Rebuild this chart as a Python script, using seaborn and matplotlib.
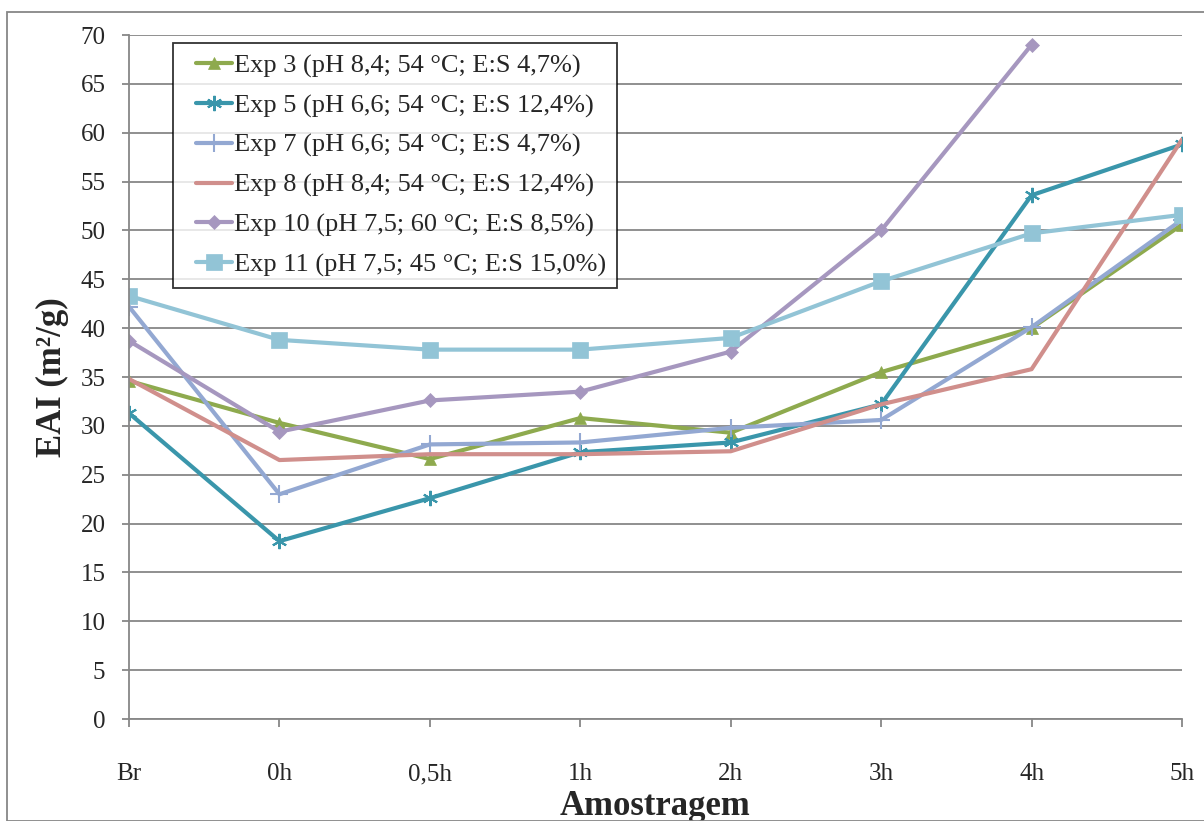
import numpy as np
import pandas as pd
import matplotlib
matplotlib.use("Agg")
import matplotlib.pyplot as plt
from matplotlib.patches import Rectangle
from matplotlib.legend_handler import HandlerLine2D
import seaborn as sns

# Sampling points (x categories)
amostras = ["Br", "0h", "0,5h", "1h", "2h", "3h", "4h", "5h"]

# EAI (m²/g) per experiment
exp3 = [34.6, 30.3, 26.6, 30.8, 29.3, 35.5, 40.0, 50.6]
exp5 = [31.3, 18.2, 22.6, 27.3, 28.3, 32.2, 53.6, 58.8]
exp7 = [42.2, 23.0, 28.1, 28.3, 29.8, 30.6, 40.1, 51.1]
exp8 = [34.8, 26.5, 27.1, 27.1, 27.4, 32.2, 35.8, 59.3]
exp10 = [38.7, 29.4, 32.6, 33.5, 37.6, 50.0, 69.0, np.nan]
exp11 = [43.3, 38.8, 37.8, 37.8, 39.0, 44.8, 49.7, 51.6]

labels = [
    "Exp 3 (pH 8,4; 54 °C; E:S 4,7%)",
    "Exp 5 (pH 6,6; 54 °C; E:S 12,4%)",
    "Exp 7 (pH 6,6; 54 °C; E:S 4,7%)",
    "Exp 8 (pH 8,4; 54 °C; E:S 12,4%)",
    "Exp 10 (pH 7,5; 60 °C; E:S 8,5%)",
    "Exp 11 (pH 7,5; 45 °C; E:S 15,0%)",
]
series = [exp3, exp5, exp7, exp8, exp10, exp11]

colors = ["#8EAA4E", "#3A96AB", "#93A8D2", "#D08F8C", "#A697BF", "#92C4D6"]
markers = ["^", (6, 2, 0), "+", None, "D", "s"]
msizes = [9, 11, 13, 0, 7, 11]

sns.set_style("white")
plt.rcParams["font.family"] = ["Liberation Serif", "DejaVu Serif"]

fig = plt.figure(figsize=(12.04, 8.21), dpi=100)
ax = fig.add_axes([129 / 1204, 1 - 719 / 821, (1182 - 129) / 1204, (719 - 35) / 821])

xpos = np.arange(len(amostras))
for vals, lab, col, mk, ms in zip(series, labels, colors, markers, msizes):
    df = pd.DataFrame({"x": xpos, "y": vals}).dropna()
    sns.lineplot(data=df, x="x", y="y", ax=ax, color=col, lw=3,
                 marker=mk if mk is not None else "", markersize=ms,
                 markeredgecolor=col, markeredgewidth=1.5 if mk in ("+", (6, 2, 0)) else 0.5,
                 label=lab)

ax.set_xlim(0, 7)
ax.set_ylim(0, 70)
ax.set_yticks(np.arange(0, 71, 5))
ax.set_xticks(xpos)
ax.set_xticklabels(amostras)
ax.grid(axis="y", color="#878787", lw=1.3)
ax.grid(axis="x", visible=False)
for side in ["top", "right"]:
    ax.spines[side].set_visible(False)
for side in ["left", "bottom"]:
    ax.spines[side].set_color("#878787")
    ax.spines[side].set_linewidth(1.3)
ax.tick_params(axis="y", which="major", direction="out", length=5, width=1.3,
               color="#878787", labelsize=18, pad=12, left=True)
ax.tick_params(axis="x", which="major", direction="out", length=6, width=1.3,
               color="#878787", labelsize=18, pad=26, bottom=True)
ax.set_xlabel("Amostragem", fontsize=25, fontweight="bold", labelpad=3)
ax.set_ylabel("EAI (m²/g)", fontsize=25, fontweight="bold", labelpad=8)

handler = HandlerLine2D(xpad=0.45)
leg = ax.legend(loc="upper left", bbox_to_anchor=(173 / 1204, 1 - 43 / 821),
                bbox_transform=fig.transFigure, borderaxespad=0, fontsize=19,
                frameon=True, fancybox=False, edgecolor="black",
                handlelength=1.8, handletextpad=0.08, labelspacing=0.6,
                borderpad=0.42,
                handler_map={matplotlib.lines.Line2D: handler})
leg.get_frame().set_linewidth(1.3)

# Outer chart border
fig.patches.append(Rectangle((7 / 1204, 0), 1.2, 1 - 12 / 821,
                             transform=fig.transFigure, fill=False,
                             edgecolor="#878787", lw=1.3))

fig.savefig("out.png", dpi=100)
